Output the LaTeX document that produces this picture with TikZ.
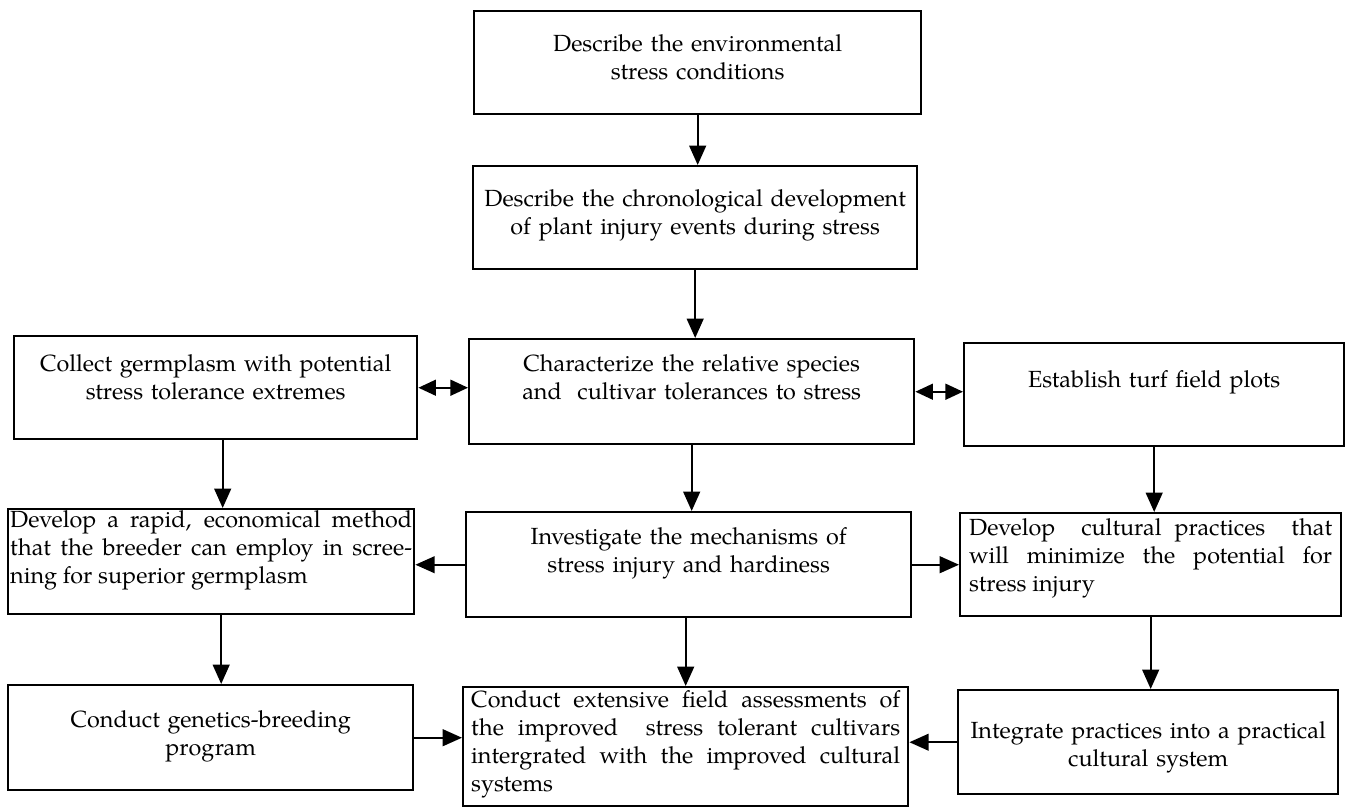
\documentclass[tikz,border=0pt]{standalone}
\usepackage{fontspec}
\setmainfont{TeX Gyre Pagella}
\usetikzlibrary{arrows.meta}
\hyphenpenalty=10000

\begin{document}
\begin{tikzpicture}[x=0.02cm, y=-0.02cm,
    box/.style={draw, line width=1.4pt, anchor=north west, inner ysep=0pt,
        inner xsep=0.16cm, align=center, font=\fontsize{13.3}{16}\selectfont},
    boxsz/.style n args={3}{text width=#1, text height=#2, text depth=#3},
    link/.style={line width=1.2pt, -{Triangle[length=11pt, width=9.5pt]}},
    twoway/.style={line width=1.2pt, {Triangle[length=10pt, width=9pt]}-{Triangle[length=10pt, width=9pt]}}]
        \useasboundingbox (0,0) rectangle (1346,808);

        % top column
        \node[box, boxsz={8.62cm}{0.80cm}{1.26cm}] (env) at (473,10)
            {Describe the environmental\\stress conditions};
        \node[box, boxsz={8.56cm}{0.80cm}{1.26cm}] (chrono) at (472,165)
            {Describe the chronological development\\of plant injury events during stress};

        % middle row
        \node[box, boxsz={7.74cm}{0.70cm}{1.36cm}] (collect) at (13,335)
            {Collect germplasm with potential\\stress tolerance extremes};
        \node[box, boxsz={8.58cm}{0.64cm}{1.46cm}] (charac) at (468,338)
            {Characterize the relative species\\and\ \ cultivar tolerances to stress};
        \node[box, boxsz={7.28cm}{0.88cm}{1.18cm}] (turf) at (963,342)
            {Establish turf field plots};

        \node[box, align=justify, inner xsep=0.04cm, boxsz={8.04cm}{0.36cm}{1.74cm}] (rapid) at (7,508)
            {Develop a rapid, economical method\linebreak that the breeder can employ in scree-\linebreak ning for superior germplasm};
        \node[box, boxsz={8.58cm}{0.64cm}{1.46cm}] (invest) at (465,511)
            {Investigate the mechanisms of\\stress injury and hardiness};
        \node[box, align=justify, inner xsep=0.18cm, boxsz={7.26cm}{0.44cm}{1.62cm}] (cultural) at (959,512)
            {Develop\ \ cultural practices\ \ that\linebreak will minimize the potential for\linebreak stress injury};

        % bottom row
        \node[box, boxsz={7.78cm}{0.84cm}{1.26cm}] (breed) at (7,684)
            {Conduct genetics-breeding\\program};
        \node[box, align=justify, boxsz={8.58cm}{0.40cm}{1.98cm}] (field) at (462,686)
            {Conduct extensive field assessments of\linebreak the improved\ \ stress tolerant cultivars\linebreak intergrated with the improved cultural\linebreak systems};
        \node[box, boxsz={7.28cm}{0.96cm}{1.12cm}] (integ) at (957,689)
            {Integrate practices into a practical\\cultural system};

        % arrows
        \draw[link] (env.south) -- (env.south |- chrono.north);
        \draw[link] (chrono.south) -- (chrono.south |- charac.north);
        \draw[twoway] (collect.east) -- (collect.east -| charac.west);
        \draw[twoway] (charac.east) -- (charac.east -| turf.west);
        \draw[link] ([xshift=0.14cm]collect.south) -- ([xshift=0.14cm]collect.south |- rapid.north);
        \draw[link] (charac.south) -- (charac.south |- invest.north);
        \draw[link] (turf.south) -- (turf.south |- cultural.north);
        \draw[link] (invest.west) -- (invest.west -| rapid.east);
        \draw[link] (invest.east) -- (invest.east -| cultural.west);
        \draw[link] ([xshift=0.2cm]rapid.south) -- ([xshift=0.2cm]rapid.south |- breed.north);
        \draw[link] (field.north |- invest.south) -- (field.north);
        \draw[link] (cultural.south) -- (cultural.south |- integ.north);
        \draw[link] (breed.east) -- (breed.east -| field.west);
        \draw[link] (integ.west) -- (integ.west -| field.east);
    \end{tikzpicture}
\end{document}
